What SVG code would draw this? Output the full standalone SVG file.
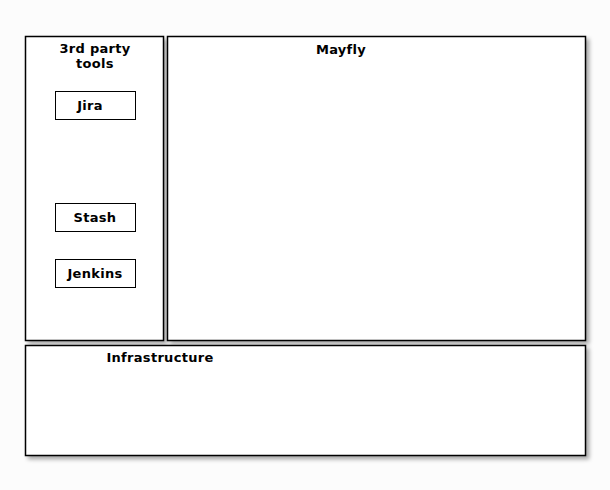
<svg xmlns="http://www.w3.org/2000/svg" width="610" height="490" viewBox="0 0 610 490">
<style>
.box{fill:#fff;stroke:#000;stroke-width:1.5}
.item{fill:#fff;stroke:#000;stroke-width:1}
.t{font-family:"DejaVu Sans",sans-serif;font-weight:bold;font-size:13px;letter-spacing:0.3px;fill:#000;text-anchor:middle}
</style>
<defs>
<filter id="sh" x="-5%" y="-5%" width="115%" height="115%">
<feGaussianBlur in="SourceAlpha" stdDeviation="2"/>
<feOffset dx="3" dy="3" result="b"/>
<feComponentTransfer><feFuncA type="linear" slope="0.35"/></feComponentTransfer>
<feMerge><feMergeNode/><feMergeNode in="SourceGraphic"/></feMerge>
</filter>
</defs>
<rect width="610" height="490" fill="#fcfcfc"/>
<g id="third-party">
<rect class="box" x="25.5" y="36.5" width="138" height="304" filter="url(#sh)"/>
<text class="t" x="95" y="53">3rd party</text>
<text class="t" x="95" y="68">tools</text>
</g>
<g id="mayfly">
<rect class="box" x="167.5" y="36.5" width="418" height="304" filter="url(#sh)"/>
<text class="t" x="341" y="54">Mayfly</text>
</g>
<g id="infrastructure">
<rect class="box" x="25.5" y="345.5" width="560" height="110" filter="url(#sh)"/>
<text class="t" x="160" y="362">Infrastructure</text>
</g>
<g id="jira">
<rect class="item" x="55.5" y="91.5" width="80" height="28"/>
<text class="t" x="90" y="110">Jira</text>
</g>
<g id="stash">
<rect class="item" x="55.5" y="203.5" width="80" height="28"/>
<text class="t" x="95" y="222">Stash</text>
</g>
<g id="jenkins">
<rect class="item" x="55.5" y="259.5" width="80" height="28"/>
<text class="t" x="95" y="278">Jenkins</text>
</g>
<g id="connectors"/>
</svg>
